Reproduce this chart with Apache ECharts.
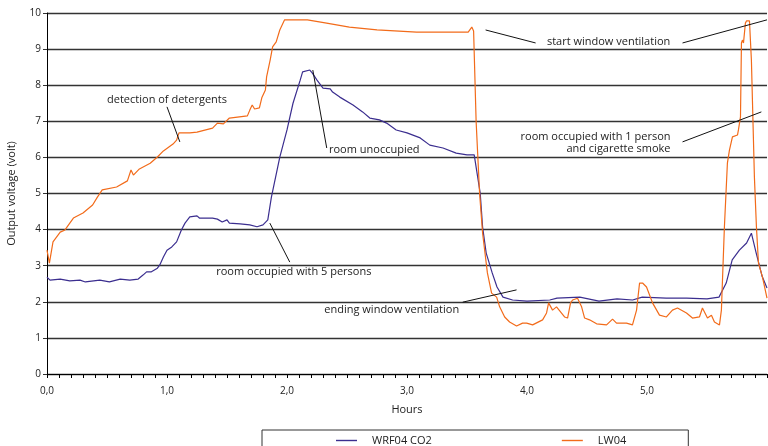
<!DOCTYPE html>
<html>
<head>
<meta charset="utf-8">
<style>
    html, body { margin: 0; padding: 0; background: #fff; }
    #chart { width: 768px; height: 446px; }
</style>
<script src="https://cdn.jsdelivr.net/npm/echarts@6/dist/echarts.min.js"></script>
</head>
<body>
<div id="chart"></div>
<script>
// series names (legend)
const seriesNames = ["WRF04 CO2", "LW04"];

// WRF04 CO2 sensor, hours / volts
const co2Hours = [0.00, 0.025, 0.11, 0.19, 0.275, 0.32, 0.44, 0.52, 0.61, 0.69, 0.76, 0.80, 0.83, 0.87, 0.92, 0.94, 0.97, 1.00, 1.04, 1.08, 1.12, 1.15, 1.19, 1.25, 1.27, 1.38, 1.42, 1.46, 1.50, 1.52, 1.61, 1.69, 1.75, 1.80, 1.84, 1.87, 1.94, 2.00, 2.05, 2.11, 2.13, 2.19, 2.21, 2.25, 2.30, 2.36, 2.38, 2.44, 2.55, 2.63, 2.69, 2.77, 2.83, 2.91, 3.00, 3.11, 3.19, 3.30, 3.41, 3.50, 3.56, 3.61, 3.63, 3.66, 3.71, 3.75, 3.80, 3.88, 4.00, 4.19, 4.25, 4.44, 4.60, 4.75, 4.88, 4.96, 5.16, 5.33, 5.50, 5.60, 5.66, 5.71, 5.77, 5.83, 5.87, 5.91, 5.94, 5.96, 6.00];
const co2Volts = [2.68, 2.60, 2.63, 2.58, 2.60, 2.55, 2.60, 2.55, 2.63, 2.60, 2.63, 2.74, 2.83, 2.83, 2.93, 3.02, 3.24, 3.43, 3.52, 3.66, 3.99, 4.18, 4.35, 4.38, 4.32, 4.32, 4.29, 4.21, 4.27, 4.18, 4.16, 4.13, 4.08, 4.13, 4.27, 4.90, 6.01, 6.76, 7.50, 8.14, 8.37, 8.42, 8.34, 8.14, 7.92, 7.90, 7.81, 7.67, 7.45, 7.26, 7.09, 7.04, 6.95, 6.76, 6.68, 6.54, 6.34, 6.26, 6.12, 6.07, 6.07, 5.01, 4.07, 3.35, 2.80, 2.41, 2.13, 2.05, 2.02, 2.05, 2.10, 2.13, 2.02, 2.08, 2.05, 2.13, 2.10, 2.10, 2.08, 2.13, 2.52, 3.16, 3.43, 3.63, 3.90, 3.35, 2.96, 2.70, 2.38];

// LW04 sensor, hours / volts
const lwHours = [0.00, 0.02, 0.05, 0.11, 0.15, 0.19, 0.22, 0.30, 0.38, 0.42, 0.46, 0.58, 0.67, 0.70, 0.72, 0.77, 0.86, 0.92, 0.97, 1.05, 1.08, 1.10, 1.19, 1.25, 1.38, 1.42, 1.47, 1.52, 1.67, 1.69, 1.71, 1.73, 1.77, 1.79, 1.82, 1.83, 1.86, 1.88, 1.91, 1.94, 1.98, 2.08, 2.17, 2.33, 2.52, 2.75, 3.08, 3.51, 3.54, 3.555, 3.576, 3.589, 3.605, 3.63, 3.67, 3.705, 3.747, 3.772, 3.814, 3.855, 3.913, 3.963, 3.997, 4.047, 4.13, 4.163, 4.18, 4.213, 4.246, 4.313, 4.338, 4.363, 4.38, 4.421, 4.455, 4.48, 4.521, 4.58, 4.663, 4.713, 4.746, 4.829, 4.879, 4.913, 4.938, 4.963, 4.996, 5.046, 5.104, 5.162, 5.212, 5.254, 5.329, 5.379, 5.437, 5.462, 5.504, 5.537, 5.562, 5.604, 5.62, 5.645, 5.67, 5.687, 5.712, 5.754, 5.762, 5.779, 5.787, 5.795, 5.804, 5.82, 5.829, 5.854, 5.87, 5.895, 5.912, 5.929, 5.962, 6.00];
const lwVolts = [3.43, 3.07, 3.66, 3.93, 3.99, 4.18, 4.32, 4.46, 4.68, 4.90, 5.10, 5.18, 5.35, 5.65, 5.51, 5.68, 5.84, 6.01, 6.18, 6.37, 6.48, 6.68, 6.68, 6.70, 6.81, 6.95, 6.93, 7.09, 7.15, 7.31, 7.45, 7.34, 7.37, 7.65, 7.87, 8.23, 8.70, 9.06, 9.20, 9.53, 9.81, 9.81, 9.81, 9.72, 9.61, 9.53, 9.47, 9.47, 9.61, 9.50, 7.00, 6.10, 5.00, 3.90, 2.80, 2.24, 2.13, 1.86, 1.58, 1.44, 1.33, 1.41, 1.41, 1.36, 1.50, 1.69, 1.97, 1.77, 1.86, 1.58, 1.55, 1.97, 2.05, 2.10, 1.86, 1.55, 1.50, 1.39, 1.36, 1.52, 1.41, 1.41, 1.36, 1.77, 2.52, 2.52, 2.41, 1.97, 1.63, 1.58, 1.77, 1.83, 1.69, 1.55, 1.58, 1.83, 1.55, 1.63, 1.44, 1.36, 1.77, 4.07, 5.84, 6.20, 6.57, 6.62, 6.76, 7.12, 9.17, 9.25, 9.17, 9.72, 9.78, 9.78, 8.70, 5.46, 4.07, 3.07, 2.69, 2.10];

// annotation texts: [text, hours, volts, align]
const noteTexts = [
    ["detection of detergents", 1.0, 7.59, "center"],
    ["room unoccupied", 2.35, 6.2, "left"],
    ["room occupied with 5 persons", 2.057, 2.83, "center"],
    ["ending window ventilation", 2.873, 1.77, "center"],
    ["start window ventilation", 4.68, 9.2, "center"],
    ["room occupied with 1 person\nand cigarette smoke", 5.196, 6.39, "right"],
];
// annotation leader lines: [h1, v1, h2, v2]
const noteLines = [
    [1.0, 7.40, 1.107, 6.43],
    [2.215, 8.42, 2.331, 6.26],
    [1.857, 4.18, 2.023, 3.10],
    [3.464, 1.99, 3.913, 2.33],
    [3.655, 9.53, 4.072, 9.17],
    [5.296, 9.17, 6.0, 9.81],
    [5.296, 6.43, 5.953, 7.26],
];

const FONT = "Open Sans";
const zip = (xs, ys) => xs.map((x, i) => [x, ys[i]]);

const chart = echarts.init(document.getElementById("chart"));

chart.setOption({
    animation: false,
    textStyle: { fontFamily: FONT, color: "#222" },
    grid: { left: 47, right: 1, top: 13, bottom: 72, outerBoundsMode: "none", containLabel: false },
    legend: {
        data: seriesNames,
        left: 262,
        top: 430,
        padding: [5, 62, 8, 74],
        itemGap: 130,
        icon: "rect",
        itemWidth: 21,
        itemHeight: 1.4,
        borderColor: "#333",
        borderWidth: 1,
        textStyle: { fontFamily: FONT, fontSize: 11, color: "#222", padding: [0, 0, 0, 10] },
    },
    xAxis: {
        type: "value",
        min: 0,
        max: 6,
        interval: 1,
        name: "Hours",
        nameLocation: "middle",
        nameGap: 30,
        nameTextStyle: { fontFamily: FONT, fontSize: 11, color: "#222" },
        axisLine: { lineStyle: { color: "#000", width: 1 } },
        axisTick: { show: true, length: 4, lineStyle: { color: "#000" } },
        minorTick: { show: true, splitNumber: 10, length: 4, lineStyle: { color: "#000" } },
        axisLabel: {
            margin: 12,
            fontSize: 10,
            color: "#222",
            formatter: (v) => (v >= 6 ? "" : v.toFixed(1).replace(".", ",")),
        },
        splitLine: { show: false },
    },
    yAxis: {
        type: "value",
        min: 0,
        max: 10,
        interval: 1,
        name: "Output voltage (volt)",
        nameLocation: "middle",
        nameGap: 30,
        nameTextStyle: { fontFamily: FONT, fontSize: 11, color: "#222" },
        axisLine: { show: true, lineStyle: { color: "#000", width: 1 } },
        axisTick: { show: true, length: 4, lineStyle: { color: "#333" } },
        axisLabel: { margin: 6, fontSize: 10, color: "#222" },
        splitLine: { show: true, lineStyle: { color: "#333", width: 1.4 } },
    },
    series: [
        {
            name: seriesNames[0],
            type: "line",
            symbol: "none",
            data: zip(co2Hours, co2Volts),
            lineStyle: { color: "#3b2e8f", width: 1.2 },
            itemStyle: { color: "#3b2e8f" },
        },
        {
            name: seriesNames[1],
            type: "line",
            symbol: "none",
            data: zip(lwHours, lwVolts),
            lineStyle: { color: "#f26b1a", width: 1.2 },
            itemStyle: { color: "#f26b1a" },
        },
        {
            // annotations only
            type: "line",
            data: [],
            silent: true,
            markLine: {
                silent: true,
                symbol: "none",
                label: { show: false },
                lineStyle: { color: "#111", width: 1, type: "solid" },
                data: noteLines.map((l) => [{ coord: [l[0], l[1]] }, { coord: [l[2], l[3]] }]),
            },
            markPoint: {
                silent: true,
                symbol: "circle",
                symbolSize: 0,
                data: noteTexts.map((t) => ({
                    coord: [t[1], t[2]],
                    label: {
                        show: true,
                        position: "inside",
                        formatter: t[0],
                        align: t[3],
                        verticalAlign: "middle",
                        fontFamily: FONT,
                        fontSize: 11,
                        lineHeight: 12,
                        color: "#222",
                    },
                })),
            },
        },
    ],
});
</script>
</body>
</html>
